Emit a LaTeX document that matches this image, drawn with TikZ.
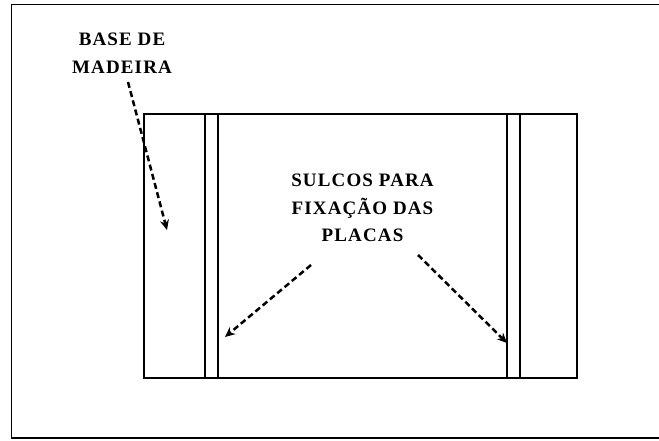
\documentclass[tikz,border=0pt]{standalone}
\usepackage{fontspec}
\newfontfamily\placafont{Liberation Serif}[LetterSpace=6]
\usetikzlibrary{arrows.meta}
\tikzset{
  rotulo/.style = {align=center, inner sep=0pt, anchor=north, font=\placafont\bfseries\fontsize{19}{27.5}\selectfont},
  seta/.style = {draw, line width=2.5pt, dash pattern=on 6pt off 3.5pt, -{Stealth[length=10pt,width=9pt]}},
  borda/.style = {draw, line width=1.4pt, inner sep=0pt}
}

\begin{document}
\begin{tikzpicture}[x=1pt,y=-1pt]
  \useasboundingbox (0,0) rectangle (659,441);
  \tikzstyle{sulco}=[borda, minimum width=13pt, minimum height=264pt]
  % moldura
  \draw[line width=1.5pt] (659,4.5) -- (11.5,4.5) -- (11.5,438) -- (659,438);
  % base e sulcos
  \node[borda, minimum width=433pt, minimum height=264pt] (base) at (360.5,246) {};
  \node[sulco] (sulcoE) at (211.5,246) {};
  \node[sulco] (sulcoD) at (513.5,246) {};
  % rotulos
  \node[rotulo] (madeira) at (122,33) {BASE DE\\MADEIRA};
  \node[rotulo] (placas) at (362.5,174) {SULCOS PARA\\FIXAÇÃO DAS\\PLACAS};
  % setas
  \coordinate (m0) at (128,82);
  \coordinate (m1) at (167,230);
  \coordinate (e0) at (311,265);
  \coordinate (e1) at (225,337);
  \coordinate (d0) at (418,255);
  \coordinate (d1) at (507,343);
  \draw[seta] (m0) -- (m1);
  \draw[seta] (e0) -- (e1);
  \draw[seta] (d0) -- (d1);
\end{tikzpicture}
\end{document}
